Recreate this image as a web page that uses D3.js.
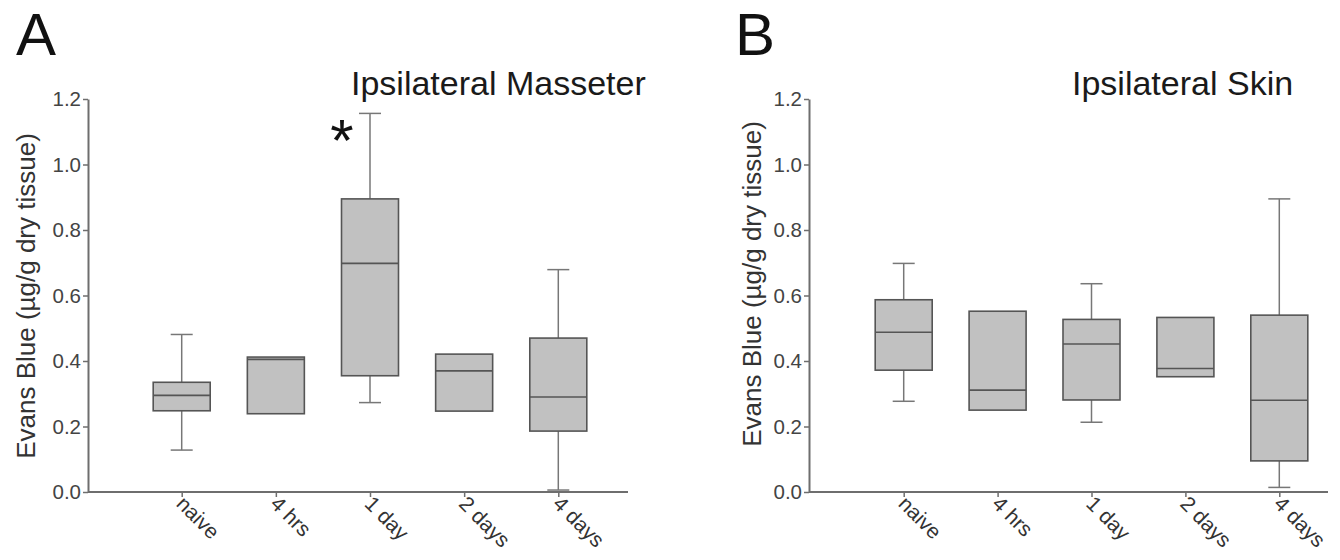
<!DOCTYPE html>
<html>
<head>
<meta charset="utf-8">
<script src="https://cdn.jsdelivr.net/npm/d3@7"></script>
<style>
body { margin: 0; background: #fff; }
text { font-family: "Liberation Sans", Arial, sans-serif; }
</style>
</head>
<body>
<svg id="viewport" width="1340" height="560"></svg>
<script>
var categories = ["naive", "4 hrs", "1 day", "2 days", "4 days"];
var yTicks = [0, 0.2, 0.4, 0.6, 0.8, 1.0, 1.2];

// Ipsilateral Masseter (panel A)
var masseterMin    = [0.128, 0.239, 0.273, 0.247, 0.006];
var masseterQ1     = [0.248, 0.239, 0.355, 0.247, 0.186];
var masseterMedian = [0.295, 0.405, 0.698, 0.370, 0.290];
var masseterQ3     = [0.335, 0.412, 0.895, 0.421, 0.470];
var masseterMax    = [0.481, 0.412, 1.156, 0.421, 0.679];
var masseterStars  = ["1 day"];

// Ipsilateral Skin (panel B)
var skinMin    = [0.277, 0.250, 0.213, 0.352, 0.014];
var skinQ1     = [0.372, 0.250, 0.281, 0.352, 0.095];
var skinMedian = [0.488, 0.311, 0.452, 0.377, 0.280];
var skinQ3     = [0.587, 0.552, 0.527, 0.533, 0.540];
var skinMax    = [0.698, 0.552, 0.636, 0.533, 0.895];
var skinStars  = [];

function toBoxes(mn, q1, med, q3, mx) {
  return categories.map(function(c, i) {
    return {cat: c, min: mn[i], q1: q1[i], median: med[i], q3: q3[i], max: mx[i]};
  });
}

var panels = [
  {letter: "A", title: "Ipsilateral Masseter", left: 88, right: 628, first: 181.7, last: 558.3,
   letterX: 16, titleX: 351, labelX: 35, labelY: 296,
   boxes: toBoxes(masseterMin, masseterQ1, masseterMedian, masseterQ3, masseterMax), stars: masseterStars},
  {letter: "B", title: "Ipsilateral Skin", left: 809, right: 1328, first: 903.7, last: 1279.3,
   letterX: 735, titleX: 1072, labelX: 761, labelY: 284,
   boxes: toBoxes(skinMin, skinQ1, skinMedian, skinQ3, skinMax), stars: skinStars}
];

var svg = d3.select("#viewport");
var y = d3.scaleLinear().domain([0, 1.2]).range([492, 99]);
var boxW = 57, capW = 22;
var axisColor = "#6e6e6e", boxStroke = "#555", boxFill = "#c1c1c1";

panels.forEach(function(p) {
  var x = d3.scalePoint().domain(categories).range([p.first, p.last]);
  var g = svg.append("g");

  g.append("text").text(p.letter)
    .attr("x", p.letterX).attr("y", 55)
    .attr("font-size", 60).attr("fill", "#111");

  g.append("text").text(p.title)
    .attr("x", p.titleX).attr("y", 95)
    .attr("font-size", 34).attr("fill", "#1a1a1a");

  g.append("text").text("Evans Blue (\u00b5g/g dry tissue)")
    .attr("transform", "translate(" + p.labelX + "," + p.labelY + ") rotate(-90)")
    .attr("text-anchor", "middle")
    .attr("font-size", 26).attr("fill", "#333");

  // y axis
  var ya = g.append("g")
    .attr("transform", "translate(" + p.left + ",0)")
    .call(d3.axisLeft(y).tickValues(yTicks).tickFormat(d3.format(".1f")).tickSize(5).tickSizeOuter(0));
  ya.select(".domain").attr("stroke", axisColor).attr("stroke-width", 2);
  ya.selectAll(".tick line").attr("stroke", axisColor).attr("stroke-width", 1.5);
  ya.selectAll(".tick text").attr("font-size", 20.5).attr("fill", "#444")
    .attr("font-family", "Liberation Sans, Arial, sans-serif").attr("x", -7);

  // x axis
  var xa = g.append("g")
    .attr("transform", "translate(0," + y(0) + ")")
    .call(d3.axisBottom(x).tickSize(5).tickSizeOuter(0));
  xa.select(".domain").remove();
  xa.append("line")
    .attr("x1", p.left).attr("x2", p.right)
    .attr("stroke", axisColor).attr("stroke-width", 2);
  xa.selectAll(".tick line").attr("stroke", axisColor).attr("stroke-width", 1.5);
  xa.selectAll(".tick text")
    .attr("font-size", 21).attr("fill", "#333")
    .attr("font-family", "Liberation Sans, Arial, sans-serif")
    .attr("text-anchor", "start")
    .attr("x", 0).attr("y", 0).attr("dy", null)
    .attr("transform", "translate(-7,13) rotate(45)");

  // boxes
  var b = g.selectAll("g.box")
    .data(p.boxes)
    .enter().append("g")
    .attr("class", "box")
    .attr("transform", function(d) { return "translate(" + x(d.cat) + ",0)"; });

  b.filter(function(d) { return d.max > d.q3; }).each(function(d) {
    var s = d3.select(this);
    s.append("line").attr("x1", 0).attr("x2", 0).attr("y1", y(d.max)).attr("y2", y(d.q3));
    s.append("line").attr("x1", -capW / 2).attr("x2", capW / 2).attr("y1", y(d.max)).attr("y2", y(d.max));
  });
  b.filter(function(d) { return d.min < d.q1; }).each(function(d) {
    var s = d3.select(this);
    s.append("line").attr("x1", 0).attr("x2", 0).attr("y1", y(d.q1)).attr("y2", y(d.min));
    s.append("line").attr("x1", -capW / 2).attr("x2", capW / 2).attr("y1", y(d.min)).attr("y2", y(d.min));
  });
  b.selectAll("line").attr("stroke", "#777").attr("stroke-width", 1.5);

  b.append("rect")
    .attr("x", -boxW / 2).attr("width", boxW)
    .attr("y", function(d) { return y(d.q3); })
    .attr("height", function(d) { return y(d.q1) - y(d.q3); })
    .attr("fill", boxFill).attr("stroke", boxStroke).attr("stroke-width", 1.6);

  b.append("line")
    .attr("x1", -boxW / 2).attr("x2", boxW / 2)
    .attr("y1", function(d) { return y(d.median); })
    .attr("y2", function(d) { return y(d.median); })
    .attr("stroke", boxStroke).attr("stroke-width", 1.6);

  // significance marks
  b.filter(function(d) { return p.stars.indexOf(d.cat) >= 0; })
    .append("text").text("*")
    .attr("x", -28).attr("y", function(d) { return y(d.max) + 48; })
    .attr("text-anchor", "middle")
    .attr("font-size", 60).attr("fill", "#111");
});
</script>
</body>
</html>
